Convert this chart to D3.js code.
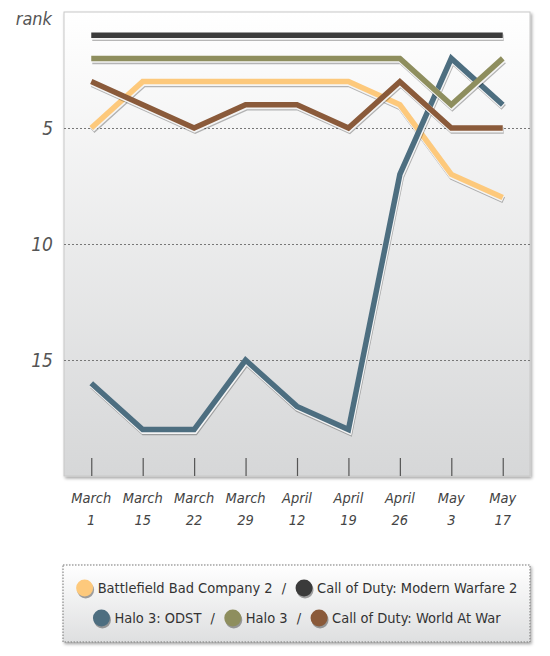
<!DOCTYPE html>
<html><head><meta charset="utf-8">
<script src="https://cdn.jsdelivr.net/npm/d3@7"></script>
<style>
html,body{margin:0;padding:0;background:#fff;}
svg{display:block;}
text{font-family:"DejaVu Sans Condensed","DejaVu Sans",sans-serif;}
</style></head>
<body>
<script>
const dates = [["March","1"],["March","15"],["March","22"],["March","29"],["April","12"],["April","19"],["April","26"],["May","3"],["May","17"]];
const seriesNames = ["Battlefield Bad Company 2","Call of Duty: Modern Warfare 2","Halo 3: ODST","Halo 3","Call of Duty: World At War"];
const seriesColors = ["#FDC97C","#3b3b3b","#4D6E80","#8E8E5E","#8A5A3A"];
const battlefield = [5,3,3,3,3,3,4,7,8];
const mw2 = [1,1,1,1,1,1,1,1,1];
const odst = [16,18,18,15,17,18,7,2,4];
const halo3 = [2,2,2,2,2,2,2,4,2];
const waw = [3,4,5,4,4,5,3,5,5];
const yTicks = [5,10,15];
const seriesValues = [battlefield, mw2, odst, halo3, waw];

const W=550,H=656;
const svg=d3.select("body").append("svg").attr("width",W).attr("height",H);
const defs=svg.append("defs");
const bg=defs.append("linearGradient").attr("id","bg").attr("x1",0).attr("y1",0).attr("x2",0).attr("y2",1);
bg.append("stop").attr("offset","0%").attr("stop-color","#ffffff");
bg.append("stop").attr("offset","100%").attr("stop-color","#d6d7d8");
const lg=defs.append("linearGradient").attr("id","lg").attr("x1",0).attr("y1",0).attr("x2",0).attr("y2",1);
lg.append("stop").attr("offset","0%").attr("stop-color","#ffffff");
lg.append("stop").attr("offset","100%").attr("stop-color","#dedfe0");
const sh=defs.append("filter").attr("id","sh").attr("x","-10%").attr("y","-10%").attr("width","130%").attr("height","130%");
sh.append("feDropShadow").attr("dx",1.5).attr("dy",2).attr("stdDeviation",1.5).attr("flood-color","#000").attr("flood-opacity",0.35);

const L=64,R=530,T=12,B=476;
const x=d3.scalePoint().domain(d3.range(dates.length)).range([L,R]).padding(0.53);
const y=d3.scaleLinear().domain([0,20]).range([T,B]);

// plot background
svg.append("rect").attr("x",L).attr("y",T).attr("width",R-L).attr("height",B-T)
  .attr("fill","url(#bg)").attr("stroke","#c8c8c8").attr("stroke-width",1).attr("filter","url(#sh)");

// grid lines
const yAxis=d3.axisLeft(y).tickValues(yTicks).tickSize(-(R-L)).tickFormat(d3.format("d")).tickPadding(11);
const gy=svg.append("g").attr("transform",`translate(${L},0)`).call(yAxis);
gy.select(".domain").remove();
gy.selectAll(".tick line").attr("stroke","#777").attr("stroke-dasharray","2,2").attr("stroke-width",1);
gy.selectAll(".tick text").attr("font-size",19).attr("font-style","italic").attr("fill","#555").attr("font-family","\"DejaVu Sans Condensed\",sans-serif");

svg.append("text").attr("x",52).attr("y",25).attr("text-anchor","end").attr("font-size",18)
  .attr("font-style","italic").attr("fill","#555").text("rank");

// x axis
const xAxis=d3.axisBottom(x).tickSize(-18).tickFormat(()=> "");
const gx=svg.append("g").attr("transform",`translate(0,${B})`).call(xAxis);
gx.select(".domain").remove();
gx.selectAll(".tick line").attr("stroke","#555").attr("stroke-width",1.2);
svg.append("line").attr("x1",L).attr("x2",R).attr("y1",B).attr("y2",B)
  .attr("stroke","#444").attr("stroke-width",2).attr("filter","url(#sh)");
const xl=svg.append("g");
dates.forEach((d,i)=>{
  const t=xl.append("text").attr("x",x(i)).attr("y",503).attr("text-anchor","middle")
    .attr("font-size",14.5).attr("font-style","italic").attr("fill","#444");
  t.append("tspan").attr("x",x(i)).attr("dy",0).text(d[0]);
  t.append("tspan").attr("x",x(i)).attr("dy",22).text(d[1]);
});

// lines
const line=d3.line().x((d,i)=>x(i)).y(d=>y(d));
const lg2=svg.append("g");
seriesValues.forEach((vals,k)=>{
  const g=lg2.append("g");
  g.append("path").attr("d",line(vals)).attr("fill","none").attr("stroke","rgba(0,0,0,0.28)")
    .attr("stroke-width",6.5).attr("transform","translate(1,2.5)").attr("stroke-linejoin","miter");
  g.append("path").attr("d",line(vals)).attr("fill","none").attr("stroke","#f4f4f4")
    .attr("stroke-width",6.5).attr("transform","translate(0.5,1.2)").attr("stroke-linejoin","miter");
  g.append("path").attr("d",line(vals)).attr("fill","none").attr("stroke",seriesColors[k])
    .attr("stroke-width",5.5).attr("stroke-linejoin","miter");
});

// legend
const LX=63,LY=565,LW=467,LH=77;
svg.append("rect").attr("x",LX).attr("y",LY).attr("width",LW).attr("height",LH)
  .attr("fill","url(#lg)").attr("stroke","#777").attr("stroke-dasharray","1.5,1.5").attr("filter","url(#sh)");
const rows=[[0,1],[2,3,4]];
const rowY=[588,618];
rows.forEach((row,ri)=>{
  const g=svg.append("g");
  let cx=0;
  row.forEach((k,j)=>{
    if(j>0){
      const s=g.append("text").attr("x",cx+9).attr("y",rowY[ri]+5).attr("font-size",14.5).attr("fill","#333").text("/");
      cx+=9+s.node().getComputedTextLength()+9;
    }
    g.append("circle").attr("cx",cx+9+1).attr("cy",rowY[ri]+2).attr("r",8.5).attr("fill","rgba(0,0,0,0.35)");
    g.append("circle").attr("cx",cx+9).attr("cy",rowY[ri]).attr("r",8.5).attr("fill",seriesColors[k]);
    const t=g.append("text").attr("x",cx+22).attr("y",rowY[ri]+5).attr("font-size",14.5).attr("fill","#333").text(seriesNames[k]);
    cx+=22+t.node().getComputedTextLength();
  });
  g.attr("transform",`translate(${(LX+LW/2)-cx/2},0)`);
});
</script>
</body></html>
